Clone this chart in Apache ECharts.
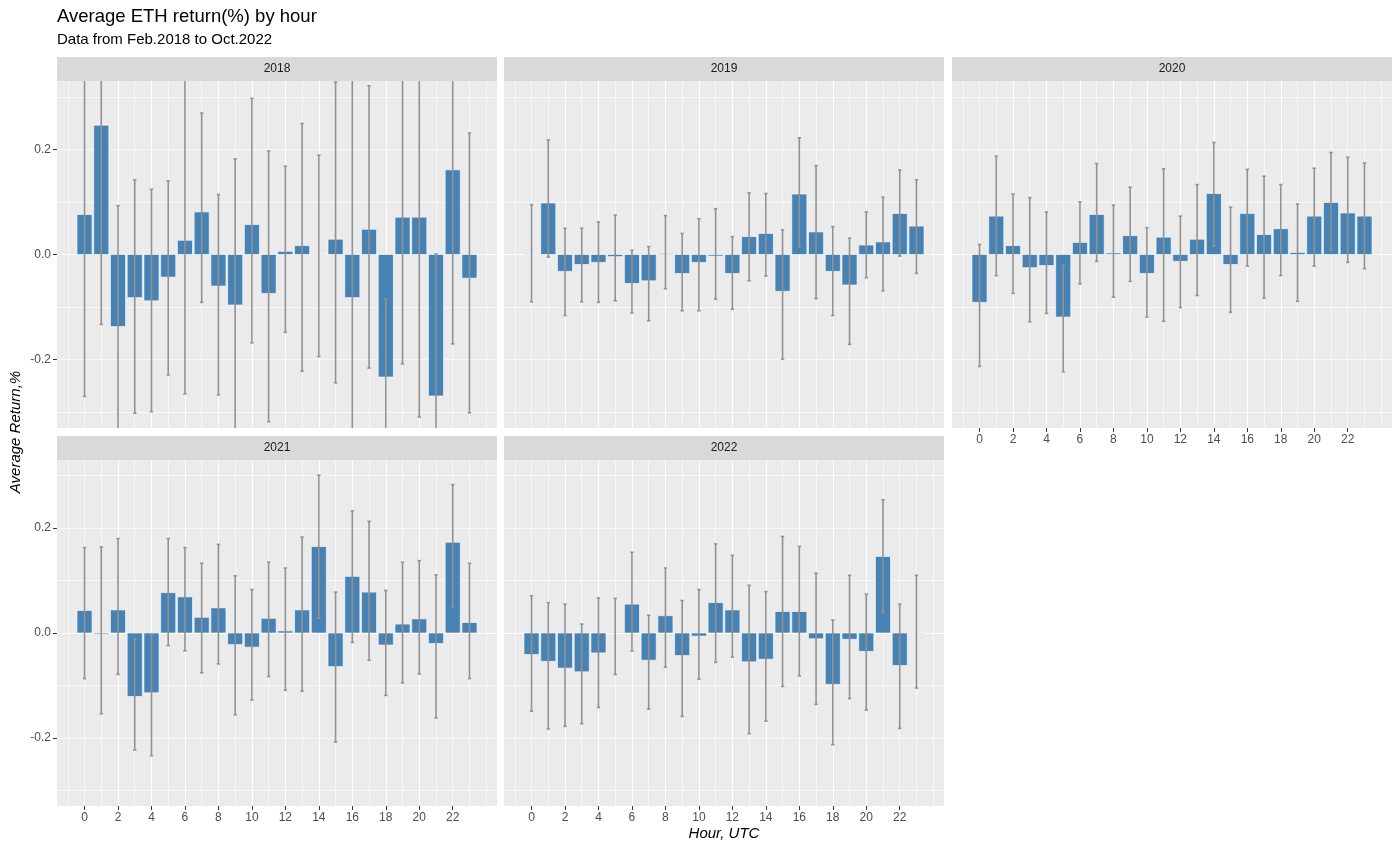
<!DOCTYPE html>
<html>
<head>
<meta charset="utf-8">
<title>Average ETH return(%) by hour</title>
<script src="https://cdn.jsdelivr.net/npm/echarts@6/dist/echarts.min.js"></script>
<style>
  html, body { margin: 0; padding: 0; background: #ffffff; }
  #chart { width: 1400px; height: 852px; }
</style>
</head>
<body>
<div id="chart"></div>
<script>
const FONT = '"Liberation Sans", Arial, Helvetica, sans-serif';

const hours = [0, 1, 2, 3, 4, 5, 6, 7, 8, 9, 10, 11, 12, 13, 14, 15, 16, 17, 18, 19, 20, 21, 22, 23];
const years = ['2018', '2019', '2020', '2021', '2022'];
const hourTicks = [0, 2, 4, 6, 8, 10, 12, 14, 16, 18, 20, 22];
const returnTicks = [-0.2, 0, 0.2];

// mean return per hour and the ends of the error bars (%)
const mean2018 = [0.076, 0.246, -0.137, -0.082, -0.088, -0.043, 0.027, 0.081, -0.060, -0.096, 0.057, -0.074,
                  0.006, 0.017, 0.001, 0.029, -0.082, 0.048, -0.233, 0.071, 0.071, -0.269, 0.161, -0.045];
const lo2018 = [-0.270, -0.133, -0.370, -0.302, -0.299, -0.229, -0.265, -0.091, -0.267, -0.370, -0.168, -0.318,
                -0.148, -0.222, -0.194, -0.244, -0.420, -0.216, -0.380, -0.208, -0.309, -0.450, -0.170, -0.301];
const hi2018 = [0.420, 0.620, 0.093, 0.142, 0.124, 0.140, 0.350, 0.269, 0.114, 0.182, 0.297, 0.197,
                0.168, 0.249, 0.189, 0.328, 0.350, 0.321, -0.085, 0.350, 0.450, 0.001, 0.490, 0.231];

const mean2019 = [-0.001, 0.098, -0.032, -0.019, -0.015, -0.004, -0.055, -0.050, 0.002, -0.036, -0.015, -0.003,
                  -0.036, 0.034, 0.040, -0.070, 0.115, 0.043, -0.032, -0.058, 0.018, 0.024, 0.078, 0.054];
const lo2019 = [-0.090, -0.005, -0.116, -0.090, -0.091, -0.088, -0.111, -0.126, -0.065, -0.107, -0.107, -0.085,
                -0.104, -0.050, -0.041, -0.199, 0.015, -0.084, -0.116, -0.171, -0.044, -0.069, -0.003, -0.036];
const hi2019 = [0.095, 0.218, 0.050, 0.050, 0.062, 0.075, 0.008, 0.015, 0.074, 0.040, 0.068, 0.087,
                0.034, 0.117, 0.116, 0.047, 0.222, 0.169, 0.053, 0.031, 0.081, 0.109, 0.161, 0.142];

const mean2020 = [-0.091, 0.073, 0.017, -0.025, -0.021, -0.119, 0.023, 0.076, 0.003, 0.036, -0.036, 0.033,
                  -0.013, 0.029, 0.116, -0.019, 0.078, 0.038, 0.049, 0.004, 0.073, 0.099, 0.079, 0.073];
const lo2020 = [-0.213, -0.040, -0.074, -0.128, -0.112, -0.223, -0.056, -0.013, -0.081, -0.051, -0.119, -0.127,
                -0.101, -0.078, 0.016, -0.110, -0.022, -0.083, -0.040, -0.089, -0.022, 0.008, -0.015, -0.027];
const hi2020 = [0.019, 0.187, 0.115, 0.108, 0.081, -0.021, 0.100, 0.173, 0.094, 0.128, 0.051, 0.163,
                0.073, 0.133, 0.213, 0.090, 0.162, 0.149, 0.133, 0.096, 0.164, 0.194, 0.185, 0.174];

const mean2021 = [0.043, -0.002, 0.044, -0.121, -0.114, 0.077, 0.069, 0.030, 0.048, -0.022, -0.027, 0.028,
                  0.004, 0.044, 0.165, -0.064, 0.108, 0.078, -0.023, 0.017, 0.027, -0.020, 0.173, 0.020];
const lo2021 = [-0.087, -0.154, -0.079, -0.223, -0.234, -0.024, -0.034, -0.076, -0.059, -0.156, -0.128, -0.083,
                -0.109, -0.111, 0.028, -0.208, -0.018, -0.052, -0.119, -0.095, -0.078, -0.162, 0.050, -0.087];
const hi2021 = [0.163, 0.164, 0.180, -0.012, -0.003, 0.180, 0.163, 0.133, 0.169, 0.109, 0.083, 0.135,
                0.124, 0.183, 0.301, 0.078, 0.233, 0.213, 0.081, 0.135, 0.138, 0.111, 0.283, 0.133];

const mean2022 = [-0.041, -0.054, -0.067, -0.074, -0.038, 0.001, 0.055, -0.052, 0.033, -0.043, -0.006, 0.058,
                  0.044, -0.055, -0.050, 0.041, 0.041, -0.011, -0.098, -0.012, -0.035, 0.146, -0.062, -0.001];
const lo2022 = [-0.149, -0.183, -0.178, -0.173, -0.142, -0.079, -0.034, -0.145, -0.065, -0.159, -0.088, -0.056,
                -0.046, -0.192, -0.168, -0.102, -0.082, -0.136, -0.213, -0.125, -0.147, 0.039, -0.182, -0.105];
const hi2022 = [0.071, 0.058, 0.055, 0.017, 0.067, 0.066, 0.154, 0.034, 0.124, 0.062, 0.083, 0.170,
                0.148, 0.091, 0.079, 0.184, 0.165, 0.114, 0.025, 0.110, 0.074, 0.254, 0.055, 0.110];

const means = [mean2018, mean2019, mean2020, mean2021, mean2022];
const lows = [lo2018, lo2019, lo2020, lo2021, lo2022];
const highs = [hi2018, hi2019, hi2020, hi2021, hi2022];

// facet layout (px), same order as years
const boxes = [
  {left: 57, top: 81, width: 440, height: 347, yLabels: true, xLabels: false},
  {left: 504, top: 81, width: 440, height: 347, yLabels: false, xLabels: false},
  {left: 952, top: 81, width: 440, height: 347, yLabels: false, xLabels: true},
  {left: 57, top: 460, width: 440, height: 346, yLabels: true, xLabels: true},
  {left: 504, top: 460, width: 440, height: 346, yLabels: false, xLabels: true}
];
const STRIP_H = 24;
const X_RANGE = [-1.645, 24.645];
const Y_RANGE = [-0.33, 0.33];

const chart = echarts.init(document.getElementById('chart'), null, {renderer: 'canvas'});

const grids = [], xAxes = [], yAxes = [], series = [], graphics = [];
const majorLine = {show: true, showMinLine: false, showMaxLine: false, lineStyle: {color: '#ffffff', width: 1.1}};
const minorLine = {show: true, showMinLine: false, showMaxLine: false, lineStyle: {color: '#ffffff', width: 0.6}};

years.forEach(function (year, k) {
  const b = boxes[k];
  grids.push({
    left: b.left, top: b.top, width: b.width, height: b.height,
    show: true, backgroundColor: '#EBEBEB', borderWidth: 0
  });

  // labelled axes (data is plotted on these), major grid lines
  xAxes.push({
    type: 'value', gridIndex: k, min: X_RANGE[0], max: X_RANGE[1],
    axisLine: {show: false, onZero: false},
    axisTick: {show: b.xLabels, length: 4, customValues: hourTicks, lineStyle: {color: '#333333'}},
    axisLabel: {show: b.xLabels, customValues: hourTicks, margin: 6, fontSize: 12, color: '#4D4D4D', fontFamily: FONT},
    splitLine: majorLine
  });
  yAxes.push({
    type: 'value', gridIndex: k, min: Y_RANGE[0], max: Y_RANGE[1],
    axisLine: {show: false, onZero: false},
    axisTick: {show: b.yLabels, length: 4, customValues: returnTicks, lineStyle: {color: '#333333'}},
    axisLabel: {
      show: b.yLabels, customValues: returnTicks, margin: 6, fontSize: 12, color: '#4D4D4D', fontFamily: FONT,
      formatter: function (v) { return v.toFixed(1); }
    },
    splitLine: majorLine
  });
  // unlabelled twins that only carry the thin grid lines (every hour / every 0.1)
  xAxes.push({
    type: 'value', gridIndex: k, min: X_RANGE[0], max: X_RANGE[1], minInterval: 1, maxInterval: 1,
    axisLine: {show: false, onZero: false}, axisTick: {show: false}, axisLabel: {show: false},
    splitLine: minorLine
  });
  yAxes.push({
    type: 'value', gridIndex: k, min: Y_RANGE[0], max: Y_RANGE[1], minInterval: 0.1, maxInterval: 0.1,
    axisLine: {show: false, onZero: false}, axisTick: {show: false}, axisLabel: {show: false},
    splitLine: minorLine
  });

  const data = hours.map(function (h, i) {
    return [h, means[k][i], lows[k][i], highs[k][i]];
  });

  // bars
  series.push({
    type: 'custom', xAxisIndex: 2 * k, yAxisIndex: 2 * k, clip: true, silent: true,
    data: data,
    encode: {x: 0, y: [1, 2, 3]},
    renderItem: function (params, api) {
      const h = api.value(0);
      const p0 = api.coord([h - 0.45, api.value(1)]);
      const p1 = api.coord([h + 0.45, 0]);
      return {
        type: 'rect',
        shape: {x: p0[0], y: Math.min(p0[1], p1[1]), width: p1[0] - p0[0], height: Math.abs(p1[1] - p0[1])},
        style: {fill: '#4682B4', stroke: '#ffffff', lineWidth: 0.6}
      };
    }
  });

  // error bars
  series.push({
    type: 'custom', xAxisIndex: 2 * k, yAxisIndex: 2 * k, clip: true, silent: true,
    data: data,
    encode: {x: 0, y: [1, 2, 3]},
    renderItem: function (params, api) {
      const h = api.value(0);
      const top = api.coord([h, api.value(3)]);
      const bot = api.coord([h, api.value(2)]);
      const xl = api.coord([h - 0.1, 0])[0];
      const xr = api.coord([h + 0.1, 0])[0];
      const st = {stroke: '#929292', lineWidth: 1.6};
      return {
        type: 'group',
        children: [
          {type: 'line', shape: {x1: top[0], y1: top[1], x2: bot[0], y2: bot[1]}, style: st},
          {type: 'line', shape: {x1: xl, y1: top[1], x2: xr, y2: top[1]}, style: st},
          {type: 'line', shape: {x1: xl, y1: bot[1], x2: xr, y2: bot[1]}, style: st}
        ]
      };
    }
  });

  // facet strip
  graphics.push({
    type: 'rect', left: b.left, top: b.top - STRIP_H, silent: true,
    shape: {width: b.width, height: STRIP_H},
    style: {fill: '#D9D9D9'}
  });
  graphics.push({
    type: 'text', x: b.left + b.width / 2, y: b.top - STRIP_H / 2, silent: true,
    style: {text: year, fill: '#1A1A1A', font: '12px ' + FONT, align: 'center', verticalAlign: 'middle'}
  });
});

graphics.push(
  {type: 'text', x: 57, y: 17, silent: true,
   style: {text: 'Average ETH return(%) by hour', fill: '#000000', font: '18.5px ' + FONT, align: 'left', verticalAlign: 'middle'}},
  {type: 'text', x: 57, y: 40, silent: true,
   style: {text: 'Data from Feb.2018 to Oct.2022', fill: '#000000', font: '15px ' + FONT, align: 'left', verticalAlign: 'middle'}},
  {type: 'text', x: 724, y: 834, silent: true,
   style: {text: 'Hour, UTC', fill: '#000000', font: 'italic 15px ' + FONT, align: 'center', verticalAlign: 'middle'}},
  {type: 'text', x: 16, y: 432, rotation: Math.PI / 2, silent: true,
   style: {text: 'Average Return,%', fill: '#000000', font: 'italic 15px ' + FONT, align: 'center', verticalAlign: 'middle'}}
);

chart.setOption({
  backgroundColor: '#ffffff',
  animation: false,
  grid: grids,
  xAxis: xAxes,
  yAxis: yAxes,
  series: series,
  graphic: graphics
});
</script>
</body>
</html>
